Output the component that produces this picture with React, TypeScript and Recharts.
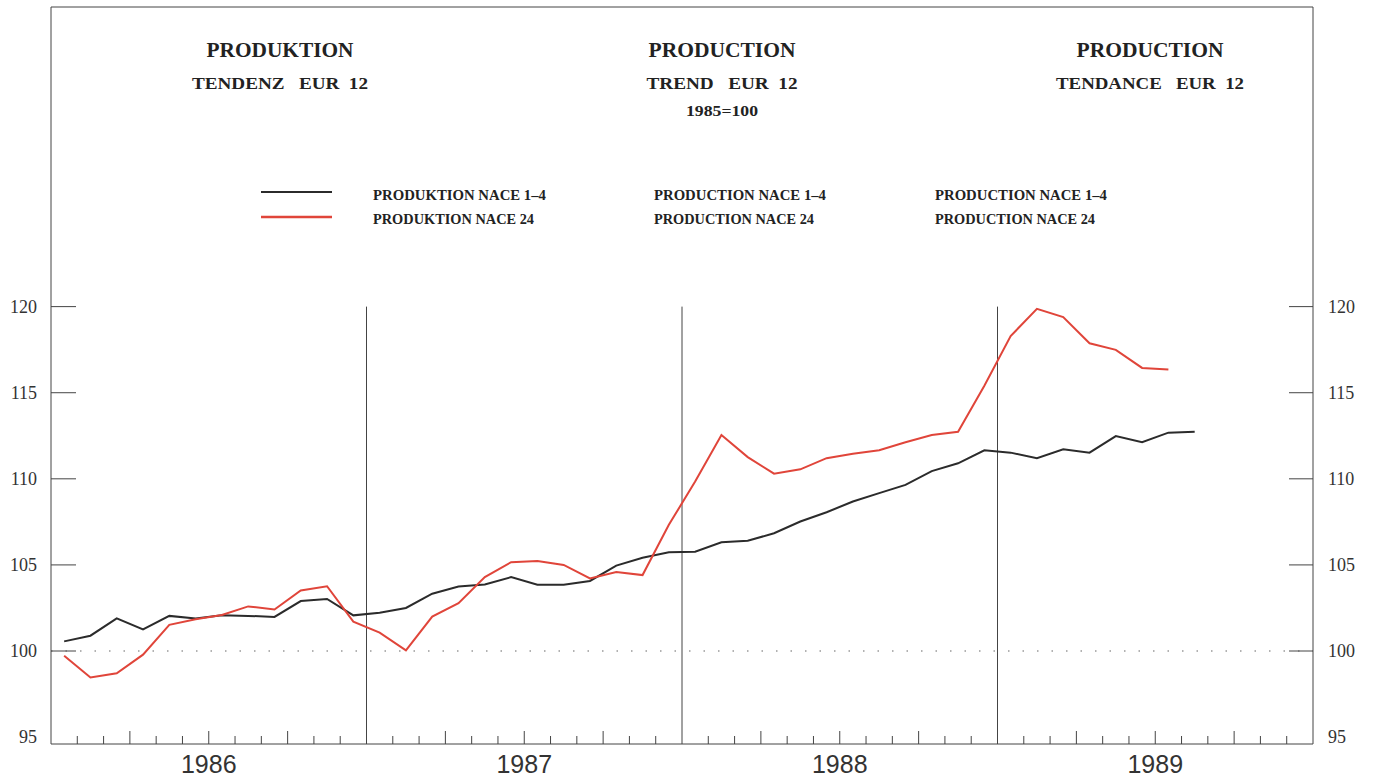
import React from 'react';
import { LineChart, Line, XAxis, YAxis, ReferenceLine } from 'recharts';

// ---------- data ----------
const YEARS = ['1986', '1987', '1988', '1989'];

// Production NACE 1-4, monthly Jan 1986 - Aug 1989 (1985 = 100)
const NACE_1_4 = [
  100.56, 100.89, 101.9, 101.26, 102.04, 101.89, 102.07, 102.04, 101.98, 102.9, 103.02, 102.07,
  102.22, 102.5, 103.33, 103.74, 103.86, 104.29, 103.85, 103.85, 104.07, 104.96, 105.42, 105.74,
  105.77, 106.32, 106.4, 106.84, 107.52, 108.06, 108.68, 109.17, 109.65, 110.45, 110.9, 111.66,
  111.52, 111.2, 111.71, 111.52, 112.48, 112.12, 112.68, 112.73,
];

// Production NACE 24, monthly Jan 1986 - Jul 1989
const NACE_24 = [
  99.73, 98.46, 98.71, 99.79, 101.52, 101.85, 102.09, 102.59, 102.41, 103.52, 103.76, 101.71,
  101.07, 100.04, 102.0, 102.78, 104.29, 105.16, 105.23, 105.0, 104.22, 104.59, 104.41, 107.33,
  109.84, 112.54, 111.26, 110.3, 110.55, 111.2, 111.46, 111.66, 112.12, 112.54, 112.73, 115.4,
  118.29, 119.87, 119.39, 117.87, 117.49, 116.44, 116.35,
];

const Y_TICKS = [95, 100, 105, 110, 115, 120];
const YEAR_BOUNDARIES = [12, 24, 36];
const MONTH_TICKS = Array.from({ length: 49 }, (_, i) => i);

const TITLES = [
  { title: 'PRODUKTION', sub: 'TENDENZ   EUR  12', base: '' },
  { title: 'PRODUCTION', sub: 'TREND   EUR  12', base: '1985=100' },
  { title: 'PRODUCTION', sub: 'TENDANCE   EUR  12', base: '' },
];

const LEGEND_LABELS = [
  ['PRODUKTION NACE 1–4', 'PRODUKTION NACE 24'],
  ['PRODUCTION NACE 1–4', 'PRODUCTION NACE 24'],
  ['PRODUCTION NACE 1–4', 'PRODUCTION NACE 24'],
];

const data = NACE_1_4.map((v, i) => ({
  m: i + 0.5,
  nace14: v,
  nace24: i < NACE_24.length ? NACE_24[i] : null,
}));

// ---------- style / layout ----------
const W = 1373;
const H = 781;
const PLOT_LEFT = 51;
const PLOT_RIGHT = 1313;
const PLOT_BOTTOM = 744;
const Y_MIN = 94.6;
const Y_MAX = 137.4;
const BLACK = '#2b2b2b';
const RED = '#e0453a';
const AXIS = '#444';
const NUM_FONT = '"Liberation Serif", "DejaVu Serif", serif';
const TITLE_FONT = '"Liberation Serif", "DejaVu Serif", serif';

const LeftTick = (props: any) => {
  const { y, payload } = props;
  const v = payload.value;
  return (
    <g>
      {v !== 95 && <line x1={PLOT_LEFT} x2={PLOT_LEFT + 25} y1={y} y2={y} stroke={AXIS} strokeWidth={1} />}
      <text x={37} y={y} dy="0.35em" textAnchor="end" fontFamily={NUM_FONT} fontSize={18} fill="#333">
        {v}
      </text>
    </g>
  );
};

const RightTick = (props: any) => {
  const { y, payload } = props;
  const v = payload.value;
  return (
    <g>
      {v !== 95 && <line x1={PLOT_RIGHT - 24} x2={PLOT_RIGHT} y1={y} y2={y} stroke={AXIS} strokeWidth={1} />}
      <text x={1328} y={y} dy="0.35em" textAnchor="start" fontFamily={NUM_FONT} fontSize={18} fill="#333">
        {v}
      </text>
    </g>
  );
};

const MonthTick = (props: any) => {
  const { x, payload } = props;
  const v = payload.value as number;
  const inner = v > 0 && v < 48 && v % 12 !== 0;
  const len = v % 3 === 0 ? 13 : 8;
  return (
    <g>
      {inner && <line x1={x} x2={x} y1={PLOT_BOTTOM} y2={PLOT_BOTTOM - len} stroke={AXIS} strokeWidth={1} />}
      {v % 12 === 6 && (
        <text
          x={x}
          y={773}
          textAnchor="middle"
          fontFamily='"Liberation Sans", Arial, sans-serif'
          fontSize={25}
          fill="#333"
        >
          {YEARS[(v - 6) / 12]}
        </text>
      )}
    </g>
  );
};

const TITLE_X = [280, 722, 1150];
const TITLE_W = [147, 147, 147];
const SUB_W = [176, 151, 188];
const LEGEND_X = [373, 654, 935];
const LEGEND_W = [
  [173, 161],
  [172, 160],
  [172, 160],
];

export default function App() {
  return (
    <div style={{ position: 'absolute', left: 0, top: 0, width: W, height: H, background: '#fff' }}>
      <LineChart width={W} height={H} data={data} margin={{ top: 7, right: 0, bottom: 0, left: 0 }}>
        <XAxis
          dataKey="m"
          type="number"
          domain={[0, 48]}
          ticks={MONTH_TICKS}
          interval={0}
          height={37}
          tickLine={false}
          tick={<MonthTick />}
          axisLine={{ stroke: AXIS }}
          allowDataOverflow
        />
        <YAxis
          yAxisId="left"
          orientation="left"
          width={51}
          domain={[Y_MIN, Y_MAX]}
          ticks={Y_TICKS}
          interval={0}
          allowDataOverflow
          tickLine={false}
          tick={<LeftTick />}
          axisLine={{ stroke: AXIS }}
        />
        <YAxis
          yAxisId="right"
          orientation="right"
          width={60}
          domain={[Y_MIN, Y_MAX]}
          ticks={Y_TICKS}
          interval={0}
          allowDataOverflow
          tickLine={false}
          tick={<RightTick />}
          axisLine={{ stroke: AXIS }}
        />
        <ReferenceLine yAxisId="left" y={Y_MAX} stroke={AXIS} strokeWidth={1} ifOverflow="extendDomain" />
        <ReferenceLine yAxisId="left" y={100} stroke="#999" strokeWidth={1.5} strokeDasharray="1.5 13" />
        {YEAR_BOUNDARIES.map((b) => (
          <ReferenceLine
            key={b}
            yAxisId="left"
            segment={[
              { x: b, y: Y_MIN },
              { x: b, y: 120 },
            ]}
            stroke={AXIS}
            strokeWidth={1}
          />
        ))}
        <Line
          yAxisId="left"
          type="linear"
          dataKey="nace14"
          stroke={BLACK}
          strokeWidth={2}
          dot={false}
          isAnimationActive={false}
        />
        <Line
          yAxisId="left"
          type="linear"
          dataKey="nace24"
          stroke={RED}
          strokeWidth={2}
          dot={false}
          isAnimationActive={false}
        />
      </LineChart>
      <svg
        width={W}
        height={H}
        style={{ position: 'absolute', left: 0, top: 0, pointerEvents: 'none' }}
      >
        {TITLES.map((t, i) => (
          <g key={i} fontFamily={TITLE_FONT} fontWeight="bold" fill="#222" textAnchor="middle">
            <text x={TITLE_X[i]} y={57} fontSize={21} textLength={TITLE_W[i]} lengthAdjust="spacingAndGlyphs">
              {t.title}
            </text>
            <text
              x={TITLE_X[i]}
              y={89}
              fontSize={16}
              textLength={SUB_W[i]}
              lengthAdjust="spacingAndGlyphs"
              style={{ whiteSpace: 'pre' }}
            >
              {t.sub}
            </text>
            {t.base && (
              <text x={TITLE_X[i]} y={116} fontSize={14} textLength={72} lengthAdjust="spacingAndGlyphs">
                {t.base}
              </text>
            )}
          </g>
        ))}
        <line x1={261} x2={332} y1={192} y2={192} stroke={BLACK} strokeWidth={2} />
        <line x1={261} x2={332} y1={217} y2={217} stroke={RED} strokeWidth={2.5} />
        {LEGEND_LABELS.map((pair, i) => (
          <g key={i} fontFamily={TITLE_FONT} fontWeight="bold" fill="#222" fontSize={14}>
            <text x={LEGEND_X[i]} y={200} textLength={LEGEND_W[i][0]} lengthAdjust="spacingAndGlyphs">
              {pair[0]}
            </text>
            <text x={LEGEND_X[i]} y={224} textLength={LEGEND_W[i][1]} lengthAdjust="spacingAndGlyphs">
              {pair[1]}
            </text>
          </g>
        ))}
      </svg>
    </div>
  );
}
